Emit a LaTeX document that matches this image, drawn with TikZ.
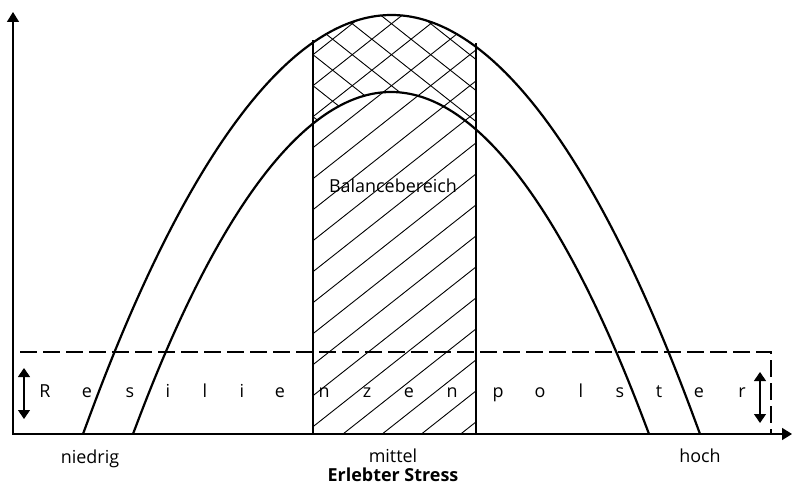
\documentclass[tikz,border=0pt]{standalone}
\usepackage{fontspec}
\setmainfont{Open Sans}
\usetikzlibrary{arrows.meta}
\begin{document}
\begin{tikzpicture}[x=1bp,y=-1bp,
  curve/.style={line width=2.2bp},
  axis/.style={line width=1.5bp,-{Triangle[width=12bp,length=10bp]}},
  hatch/.style={line width=0.9bp},
  edge/.style={line width=1.5bp},
  dashbox/.style={line width=1.3bp,dash pattern=on 17bp off 6bp},
  lbl/.style={font=\fontsize{18}{20}\selectfont, anchor=base, inner sep=0pt},
  dbl/.style={line width=1.2bp,{Triangle[width=12bp,length=9bp]}-{Triangle[width=12bp,length=9bp]}}
]
\useasboundingbox (0,0) rectangle (792,486);
% hatching
\begin{scope}
  \clip (313,0) rectangle (476,434);
  \clip (83,434) parabola bend (391.5,15) (700,434) -- cycle;
  \foreach \k in {-14,...,12}{
    \pgfmathsetmacro{\yo}{271.7+31*\k}
    \draw[hatch] (293,{\yo+15.8}) -- (496,{\yo-144.6});
  }
  \begin{scope}[even odd rule]
    \clip (0,0) rectangle (792,486) (133,434) parabola bend (391,92) (649,434) -- cycle;
    \foreach \k in {-14,...,12}{
      \pgfmathsetmacro{\yo}{271.7+31*\k}
      \draw[hatch] (293,{\yo-15.8}) -- (496,{\yo+144.6});
    }
  \end{scope}
\end{scope}
% balance rectangle edges
\coordinate (bl) at (313,434);
\coordinate (bt) at (313,40);
\coordinate (br) at (476,434);
\coordinate (brt) at (476,43);
\draw[edge] (bl) -- (bt);
\draw[edge] (br) -- (brt);
% curves
\draw[curve] (83,434) parabola bend (391.5,15) (700,434);
\draw[curve] (133,434) parabola bend (391,92) (649,434);
% dashed box
\draw[dashbox] (13,352) rectangle (771,434);
% axes
\coordinate (o) at (13,434);
\coordinate (ytip) at (13,12);
\coordinate (xtip) at (792,434);
\draw[axis] (o) -- (ytip);
\draw[axis] (o) -- (xtip);
% double arrows
\coordinate (la) at (24,368);
\coordinate (lb) at (24,419);
\coordinate (ra) at (760,372);
\coordinate (rb) at (760,423);
\draw[dbl] (la) -- (lb);
\draw[dbl] (ra) -- (rb);
% letters
\foreach \ch/\xx [count=\n] in {R/45,e/87,s/130,i/168,l/205,i/242,e/280,n/324,z/367,e/409,n/452,p/498,o/540,l/581,s/620,t/659,e/699,r/742}{
  \node[lbl] (res\n) at (\xx,397.3) {\ch};
}
% labels
\node[lbl] (balance) at (393,192.7) {Balancebereich};
\node[lbl] (niedrig) at (90,463) {niedrig};
\node[lbl] (mittel) at (393,462) {mittel};
\node[lbl] (hoch) at (700,462) {hoch};
\node[lbl,font=\fontsize{18}{20}\selectfont\bfseries] (stress) at (393,481.7) {Erlebter Stress};
\end{tikzpicture}
\end{document}
